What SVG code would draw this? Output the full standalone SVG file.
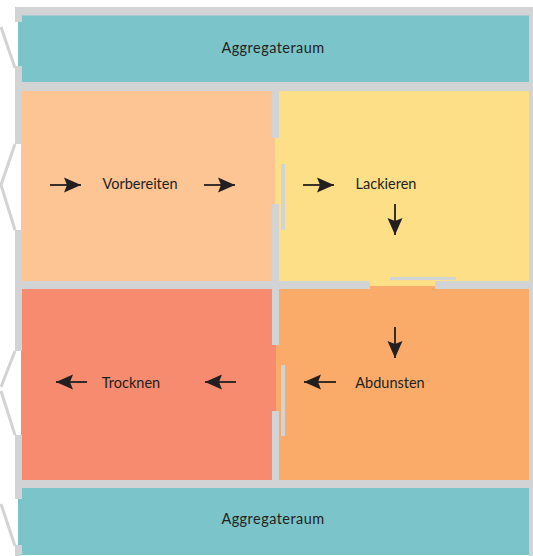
<svg xmlns="http://www.w3.org/2000/svg" width="533" height="556" viewBox="0 0 533 556">
<style>
.w{fill:#d1d3d4}
.d{stroke:#d1d3d4;stroke-width:3;fill:none}
.t{font-family:Lato,"Liberation Sans",sans-serif;font-size:14.500px;fill:#231f20;text-anchor:middle}
.g{letter-spacing:.45px}
.a{stroke:#231f20;stroke-width:1.8;fill:none;marker-end:url(#h)}
</style>
<defs><marker id="h" markerUnits="userSpaceOnUse" markerWidth="18" markerHeight="16" refX="17" refY="8" orient="auto"><path d="M0 0.500L17 8L0 15.500L3 8Z" fill="#231f20"/></marker></defs>
<rect width="533" height="556" fill="#fff"/>
<g id="walls">
<rect class="w" x="15" y="7" width="518" height="9"/>
<rect class="w" x="15" y="7" width="7" height="15"/>
<rect class="w" x="15" y="66" width="7" height="78"/>
<rect class="w" x="15" y="230" width="7" height="121"/>
<rect class="w" x="15" y="435" width="7" height="64"/>
<rect class="w" x="15" y="545" width="7" height="11"/>
<rect class="w" x="15" y="82" width="518" height="9"/>
<rect class="w" x="15" y="281" width="355" height="8"/>
<rect class="w" x="435" y="281" width="98" height="8"/>
<rect class="w" x="15" y="480" width="518" height="8"/>
<rect class="w" x="529" y="7" width="4" height="549"/>
<rect class="w" x="272" y="91" width="7" height="47"/>
<rect class="w" x="272" y="204" width="7" height="141"/>
<rect class="w" x="272" y="411" width="7" height="69"/>
</g>
<g id="doors">
<path class="d" d="M15 68L1 27"/>
<path class="d" d="M15 144L1 185L15 230"/>
<path class="d" d="M15 351L1 387M1 391L15 435"/>
<path class="d" d="M15 546L1 504"/>
</g>
<g id="aggregat-oben">
<path d="M22 15.500H529V82H22V66H18V22H22Z" fill="#7bc4ca"/>
<text class="t g" x="273" y="53">Aggregateraum</text>
</g>
<g id="vorbereiten">
<rect x="22" y="91" width="250" height="190" fill="#fdc494"/>
<rect x="272" y="138" width="3" height="66" fill="#fdc494"/>
<rect x="21" y="144" width="1" height="86" fill="#fdc494"/>
<text class="t" x="140" y="189">Vorbereiten</text>
</g>
<g id="lackieren">
<rect x="279" y="91" width="250" height="190" fill="#fddf87"/>
<rect x="275" y="138" width="4" height="66" fill="#fddf87"/>
<rect x="370" y="281" width="65" height="5" fill="#fddf87"/>
<rect class="w" x="281" y="164" width="4" height="66"/>
<rect class="w" x="390" y="277" width="66" height="3"/>
<text class="t" x="386" y="189">Lackieren</text>
</g>
<g id="trocknen">
<rect x="22" y="289" width="250" height="191" fill="#f68b6f"/>
<rect x="272" y="345" width="4" height="66" fill="#f68b6f"/>
<rect x="21" y="351" width="1" height="84" fill="#f68b6f"/>
<text class="t" x="131" y="388">Trocknen</text>
</g>
<g id="abdunsten">
<rect x="279" y="289" width="250" height="191" fill="#faab69"/>
<rect x="276" y="345" width="3" height="66" fill="#faab69"/>
<rect x="370" y="286" width="65" height="3" fill="#faab69"/>
<rect class="w" x="281" y="365" width="4" height="71"/>
<text class="t" x="390" y="388">Abdunsten</text>
</g>
<g id="aggregat-unten">
<path d="M22 488H529V555H22V545H18V499H22Z" fill="#7bc4ca"/>
<text class="t g" x="273" y="524">Aggregateraum</text>
</g>
<g id="connectors">
<path class="a" d="M50 185H81"/>
<path class="a" d="M204 185H235"/>
<path class="a" d="M303 185H334"/>
<path class="a" d="M395 204V235"/>
<path class="a" d="M395 327V358"/>
<path class="a" d="M336 382H304"/>
<path class="a" d="M236 382H205"/>
<path class="a" d="M87 382H56"/>
</g>
</svg>
